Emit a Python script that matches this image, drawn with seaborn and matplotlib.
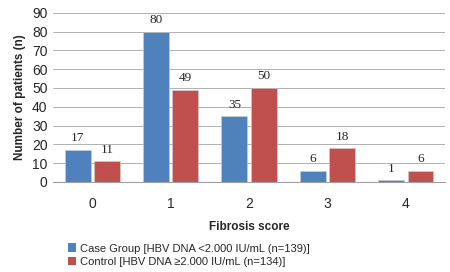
import matplotlib
matplotlib.use("Agg")
import matplotlib.pyplot as plt
import seaborn as sns
import pandas as pd
from matplotlib.patches import Patch

scores = ["0", "1", "2", "3", "4"]
case_values = [17, 80, 35, 6, 1]
control_values = [11, 49, 50, 18, 6]
series_names = ["Case Group [HBV DNA <2.000 IU/mL (n=139)]",
                "Control [HBV DNA \u22652.000 IU/mL (n=134)]"]
colors = ["#4F81BD", "#C0504D"]

df = pd.DataFrame({
    "score": scores * 2,
    "n": case_values + control_values,
    "group": [series_names[0]] * len(scores) + [series_names[1]] * len(scores),
})

sns.set_style("white")
plt.rcParams["font.family"] = ["Liberation Sans", "DejaVu Sans"]

fig = plt.figure(figsize=(4.5, 2.72), dpi=100)
ax = fig.add_axes([0.118, 0.331, 0.871, 0.622])

sns.barplot(data=df, x="score", y="n", hue="group", palette=colors,
            width=0.75, gap=0.12, ax=ax, legend=False, saturation=1,
            edgecolor="#d0d0d0", linewidth=0.4)

ax.set_ylim(0, 90)
ax.set_yticks(range(0, 91, 10))
ax.yaxis.grid(True, color="#b0b0b0", linewidth=0.7)
ax.set_axisbelow(True)
for s in ["left", "right", "top"]:
    ax.spines[s].set_visible(False)
ax.spines["bottom"].set_color("#a0a0a0")
ax.spines["bottom"].set_linewidth(0.8)
ax.tick_params(axis="both", length=0, labelsize=10)
ax.tick_params(axis="x", pad=11)
ax.tick_params(axis="y", pad=4)
ax.set_xlabel("Fibrosis score", fontsize=8.5, fontweight="bold", labelpad=7)
ax.set_ylabel("Number of patients (n)", fontsize=8.5, fontweight="bold", labelpad=4)

for cont in ax.containers:
    ax.bar_label(cont, padding=4, fontsize=9.5, family="Liberation Serif")

handles = [Patch(facecolor=c, edgecolor="none") for c in colors]
fig.legend(handles, series_names, loc="upper left", bbox_to_anchor=(0.15, 0.105),
           frameon=False, fontsize=8, handlelength=0.8, handleheight=0.8,
           handletextpad=0.3, labelspacing=0.3, borderpad=0, borderaxespad=0)

fig.savefig("out.png", dpi=100)
